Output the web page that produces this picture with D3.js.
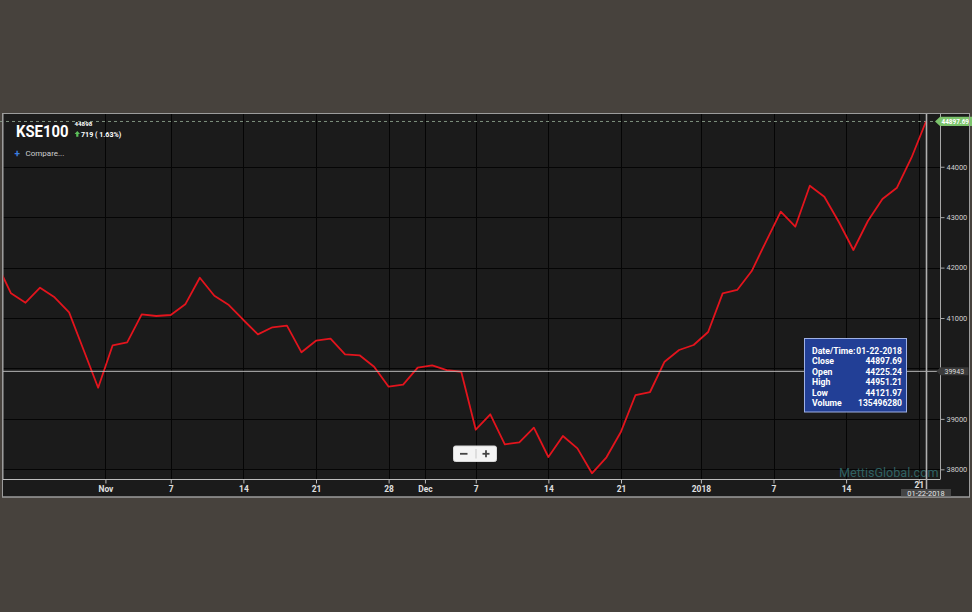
<!DOCTYPE html>
<html><head><meta charset="utf-8">
<script src="https://cdn.jsdelivr.net/npm/d3@7/dist/d3.min.js"></script>
<style>
html,body{margin:0;padding:0;background:#47423d;overflow:hidden}
text{font-family:Roboto,"Liberation Sans",Arial,sans-serif}
</style>
</head><body>
<svg id="c" width="972" height="612"></svg>
<script>
// ---- data ----
const seriesName = "KSE100";
const closes = [
  42091, 41490, 41304, 41601, 41411, 41113, 40366, 39618, 40459, 40518,
  41074, 41040, 41060, 41272, 41799, 41442, 41258, 40961, 40677, 40816,
  40848, 40320, 40550, 40590, 40280, 40261, 40035, 39638, 39678, 40015,
  40062, 39969, 39935, 38785, 39091, 38496, 38535, 38825, 38244, 38660,
  38416, 37921, 38238, 38746, 39473, 39533, 40134, 40366, 40465, 40723,
  41490, 41556, 41932, 42527, 43108, 42811, 43624, 43406, 42904, 42349,
  42924, 43360, 43584, 44179, 44897.69
];
const yTickValues = [38000, 39000, 40000, 41000, 42000, 43000, 44000];
const xTickLabels = ["Nov", "7", "14", "21", "28", "Dec", "7", "14", "21", "2018", "7", "14", "21"];
// position of each tick in trading-session units (index into closes)
const xTickSessions = [7.5, 12, 17, 22, 27, 29.5, 33, 38, 43, 48.5, 53.5, 58.5, 63.5];
const headerLast = "44898";
const headerChange = "719 ( 1.63%)";
const crosshairValue = 39943;
const crosshairDate = "01-22-2018";
const tooltipLabels = ["Date/Time:", "Close", "Open", "High", "Low", "Volume"];
const tooltipValues = ["01-22-2018", "44897.69", "44225.24", "44951.21", "44121.97", "135496280"];
const watermark = "MettisGlobal.com";

// ---- layout ----
const svg = d3.select("#c");
const P = {left: 3, right: 940, top: 114, bottom: 479};

svg.append("rect").attr("x", 2.5).attr("y", 113.5).attr("width", 967).attr("height", 383.5)
  .attr("fill", "#1b1b1b").attr("stroke", "#9c9c9c").attr("stroke-width", 1);

const x = d3.scaleLinear().domain([0, closes.length - 1]).range([-3.52, 926]);
const y = d3.scaleLinear().domain([37808, 45026]).range([P.bottom, 115]);

// grid
const grid = svg.append("g");
grid.selectAll("line.h").data(yTickValues).join("line")
  .attr("x1", P.left).attr("x2", P.right)
  .attr("y1", d => Math.round(y(d)) + 0.5).attr("y2", d => Math.round(y(d)) + 0.5)
  .attr("stroke", "#050505").attr("stroke-width", 1);
grid.selectAll("line.v").data(xTickSessions).join("line")
  .attr("y1", P.top).attr("y2", P.bottom)
  .attr("x1", d => Math.round(x(d)) + 0.5).attr("x2", d => Math.round(x(d)) + 0.5)
  .attr("stroke", "#050505").attr("stroke-width", 1);

// header
svg.append("text").attr("x", 16).attr("y", 136.6).text(seriesName)
  .attr("fill", "#ffffff").attr("font-weight", "bold").attr("font-size", 17)
  .attr("textLength", 52.5).attr("lengthAdjust", "spacingAndGlyphs");
svg.append("text").attr("x", 74.5).attr("y", 126.2).text(headerLast)
  .attr("fill", "#ffffff").attr("font-weight", "bold").attr("font-size", 6.2);
svg.append("path").attr("d", "M77.3,131 L80,134 L78.4,134 L78.4,136.8 L76.2,136.8 L76.2,134 L74.6,134 Z")
  .attr("fill", "#5cc05a");
svg.append("text").attr("x", 81).attr("y", 136.6).text(headerChange)
  .attr("fill", "#ffffff").attr("font-weight", "bold").attr("font-size", 7.1);
svg.append("text").attr("x", 14.6).attr("y", 157).text("+")
  .attr("fill", "#3d7fe0").attr("font-weight", "bold").attr("font-size", 10);
svg.append("text").attr("x", 25.5).attr("y", 156.3).text("Compare...")
  .attr("fill", "#cfcfcf").attr("font-size", 8);

// plot border (left, right)
svg.append("line").attr("x1", P.right + 0.5).attr("x2", P.right + 0.5).attr("y1", P.top).attr("y2", P.bottom)
  .attr("stroke", "#a8a8a8");
svg.append("line").attr("x1", P.left).attr("x2", P.left).attr("y1", P.top).attr("y2", P.bottom)
  .attr("stroke", "#a8a8a8");

// y axis (the label under the crosshair value box is hidden, as in the reference)
const cy = y(crosshairValue);
const yAxis = d3.axisRight(y).tickValues(yTickValues).tickSize(4).tickPadding(2).tickFormat(d3.format("d"));
const yg = svg.append("g").attr("transform", `translate(${P.right + 0.5},0)`).call(yAxis);
yg.select(".domain").remove();
yg.selectAll(".tick line").attr("stroke", "#a8a8a8");
yg.selectAll(".tick text").attr("fill", "#d0d0d0").attr("font-size", 7.4).attr("font-family", "Roboto, sans-serif")
  .filter(d => Math.abs(y(d) - cy) < 8).remove();

// x axis
const xAxis = d3.axisBottom(x).tickValues(xTickSessions).tickSize(4).tickPadding(3)
  .tickFormat((d, i) => xTickLabels[i]);
const xg = svg.append("g").attr("transform", `translate(0,${P.bottom + 0.5})`).call(xAxis);
xg.select(".domain").attr("d", `M${P.left},0H${P.right + 0.5}`).attr("stroke", "#bdbdbd");
xg.selectAll(".tick line").attr("stroke", "#bdbdbd");
xg.selectAll(".tick text").attr("fill", "#e0e0e0").attr("font-size", 8.4).attr("font-weight", "bold")
  .attr("font-family", "Roboto, sans-serif");
// the last tick label sits just above the crosshair date box
xg.selectAll(".tick text").filter((d, i) => i === xTickSessions.length - 1).attr("dy", "0.2em");

// watermark
svg.append("text").attr("x", 839).attr("y", 476.5).text(watermark)
  .attr("fill", "#3b8a8c").attr("fill-opacity", 0.65).attr("font-size", 12.6)
  .attr("font-family", "'Liberation Sans', Arial, sans-serif");

// clip
svg.append("clipPath").attr("id", "plotclip").append("rect")
  .attr("x", P.left + 0.5).attr("y", P.top).attr("width", P.right - P.left).attr("height", P.bottom - P.top);

// last-price dashed line
const lastIdx = closes.length - 1;
const yLast = y(closes[lastIdx]);
svg.append("line").attr("x1", 0).attr("x2", 936).attr("y1", yLast).attr("y2", yLast)
  .attr("stroke", "#7f917f").attr("stroke-dasharray", "3,3").attr("stroke-width", 1);

// price line
svg.append("path").datum(closes).attr("clip-path", "url(#plotclip)")
  .attr("fill", "none").attr("stroke", "#e3141d").attr("stroke-width", 1.8).attr("stroke-linejoin", "round")
  .attr("d", d3.line().x((d, i) => x(i)).y(d => y(d)));

// crosshairs
const cx = x(lastIdx);
svg.append("line").attr("x1", P.left).attr("x2", P.right).attr("y1", cy).attr("y2", cy)
  .attr("stroke", "#b9b9b9").attr("stroke-width", 1);
svg.append("line").attr("x1", cx + 0.5).attr("x2", cx + 0.5).attr("y1", P.top).attr("y2", 490)
  .attr("stroke", "#b0b0b0").attr("stroke-width", 1.6);

// last price label (green)
const gl = svg.append("g").attr("transform", `translate(${P.right - 5},${yLast})`);
gl.append("path").attr("d", "M0,0 L5,-4.6 H40 V4.6 H5 Z").attr("fill", "#7cc46c");
gl.append("text").attr("x", 6.5).attr("y", 2.4).text(closes[lastIdx].toFixed(2))
  .attr("fill", "#ffffff").attr("font-size", 6.4).attr("font-weight", "bold");

// crosshair y label
const gc = svg.append("g").attr("transform", `translate(${P.right - 3.5},${cy})`);
gc.append("path").attr("d", "M0,0 L4,-4 H32 V4 H4 Z").attr("fill", "#3a3a3a");
gc.append("text").attr("x", 8).attr("y", 2.6).text(crosshairValue)
  .attr("fill", "#dcdcdc").attr("font-size", 7);

// crosshair x label
const gx = svg.append("g").attr("transform", `translate(${cx},489)`);
gx.append("rect").attr("x", -25).attr("y", 0).attr("width", 50).attr("height", 8).attr("fill", "#454545");
gx.append("text").attr("x", 0).attr("y", 6.6).attr("text-anchor", "middle").text(crosshairDate)
  .attr("fill", "#e8e8e8").attr("font-size", 7.4);

// re-draw panel border on top of labels
svg.append("rect").attr("x", 2.5).attr("y", 113.5).attr("width", 967).attr("height", 383.5)
  .attr("fill", "none").attr("stroke", "#9c9c9c").attr("stroke-width", 1);

// tooltip
const tt = svg.append("g").attr("transform", "translate(804.5,338.5)");
tt.append("rect").attr("width", 102).attr("height", 73.5).attr("fill", "#223f96")
  .attr("stroke", "#9fb1e6").attr("stroke-width", 1);
tooltipLabels.forEach((lab, i) => {
  tt.append("text").attr("x", 7.5).attr("y", 15 + i * 10.5).text(lab)
    .attr("fill", "#ffffff").attr("font-weight", "bold").attr("font-size", 8.7);
  tt.append("text").attr("x", 97.5).attr("y", 15 + i * 10.5).attr("text-anchor", "end").text(tooltipValues[i])
    .attr("fill", "#ffffff").attr("font-weight", "bold").attr("font-size", 8.5);
});

// zoom buttons
const zb = svg.append("g").attr("transform", "translate(453.5,446)");
zb.append("rect").attr("width", 43).attr("height", 15.5).attr("rx", 2).attr("fill", "#f4f4f4")
  .attr("stroke", "#d8d8d8");
zb.append("line").attr("x1", 22.5).attr("x2", 22.5).attr("y1", 3).attr("y2", 12.5).attr("stroke", "#c8c8c8");
zb.append("line").attr("x1", 6.5).attr("x2", 14).attr("y1", 7.8).attr("y2", 7.8).attr("stroke", "#444").attr("stroke-width", 1.8);
zb.append("line").attr("x1", 29).attr("x2", 36).attr("y1", 7.8).attr("y2", 7.8).attr("stroke", "#444").attr("stroke-width", 1.8);
zb.append("line").attr("x1", 32.5).attr("x2", 32.5).attr("y1", 4.3).attr("y2", 11.3).attr("stroke", "#444").attr("stroke-width", 1.8);
</script>
</body></html>
